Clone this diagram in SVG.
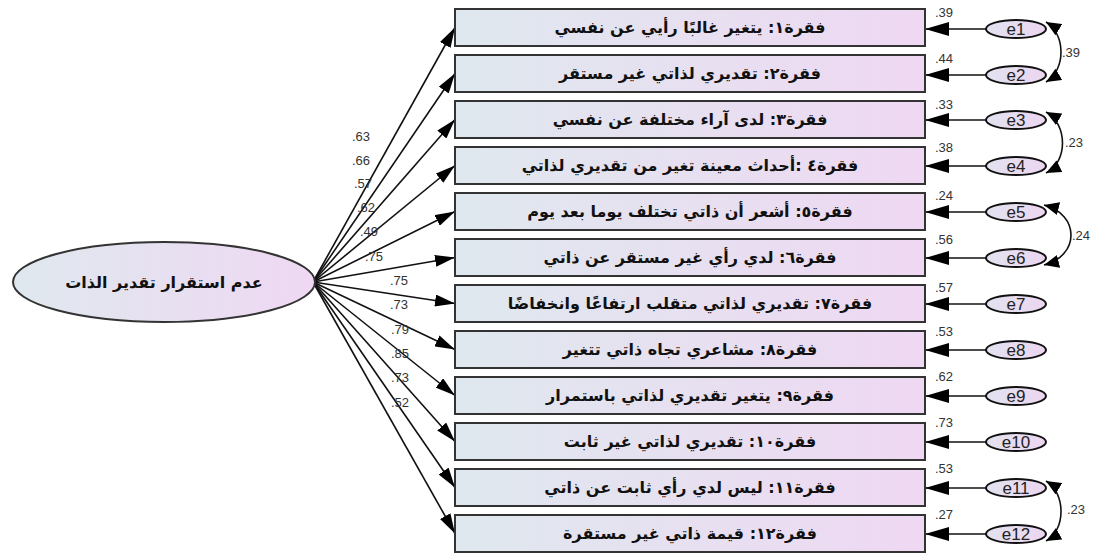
<svg xmlns="http://www.w3.org/2000/svg" width="1099" height="556" viewBox="0 0 1099 556">
<defs>
<linearGradient id="g" x1="0" y1="0" x2="1" y2="0">
<stop offset="0" stop-color="#dfe8ee"/>
<stop offset="1" stop-color="#efd8f3"/>
</linearGradient>
<linearGradient id="ge" x1="0" y1="0" x2="1" y2="0">
<stop offset="0" stop-color="#e2e2f0"/>
<stop offset="1" stop-color="#ecd6f0"/>
</linearGradient>
<marker id="ah" markerUnits="userSpaceOnUse" markerWidth="20" markerHeight="12" refX="20" refY="6" orient="auto">
<path d="M0,0 L20,6 L0,12 z" fill="#000"/>
</marker>
<marker id="ahe" markerUnits="userSpaceOnUse" markerWidth="24" markerHeight="14" refX="24" refY="7" orient="auto">
<path d="M0,0 L24,7 L0,14 z" fill="#000"/>
</marker>
<marker id="ahc" markerUnits="userSpaceOnUse" markerWidth="15" markerHeight="13" refX="15" refY="6.5" orient="auto-start-reverse">
<path d="M0,0 L15,6.5 L0,13 z" fill="#000"/>
</marker>
</defs>
<style>
.box{fill:url(#g);stroke:#333;stroke-width:2}
.bt{font-family:"DejaVu Sans",sans-serif;font-size:16px;font-weight:bold;fill:#111;text-anchor:middle;direction:rtl}
.el{fill:url(#ge);stroke:#111;stroke-width:2}
.et{font-family:"Liberation Sans",Arial,sans-serif;font-size:17px;fill:#222;text-anchor:middle}
.num{font-family:"Liberation Sans",Arial,sans-serif;font-size:13px;fill:#333}
.ln{stroke:#111;stroke-width:1.6;fill:none}
</style>
<g id="connectors">
<line class="ln" x1="313" y1="282" x2="455" y2="27.5" marker-end="url(#ah)"/>
<line class="ln" x1="313" y1="282" x2="455" y2="73.5" marker-end="url(#ah)"/>
<line class="ln" x1="313" y1="282" x2="455" y2="119.5" marker-end="url(#ah)"/>
<line class="ln" x1="313" y1="282" x2="455" y2="165.5" marker-end="url(#ah)"/>
<line class="ln" x1="313" y1="282" x2="455" y2="211.5" marker-end="url(#ah)"/>
<line class="ln" x1="313" y1="282" x2="455" y2="257.5" marker-end="url(#ah)"/>
<line class="ln" x1="313" y1="282" x2="455" y2="303.5" marker-end="url(#ah)"/>
<line class="ln" x1="313" y1="282" x2="455" y2="349.5" marker-end="url(#ah)"/>
<line class="ln" x1="313" y1="282" x2="455" y2="395.5" marker-end="url(#ah)"/>
<line class="ln" x1="313" y1="282" x2="455" y2="441.5" marker-end="url(#ah)"/>
<line class="ln" x1="313" y1="282" x2="455" y2="487.5" marker-end="url(#ah)"/>
<line class="ln" x1="313" y1="282" x2="455" y2="533.5" marker-end="url(#ah)"/>
<line class="ln" x1="986" y1="29" x2="925" y2="29" marker-end="url(#ahe)"/>
<line class="ln" x1="986" y1="75" x2="925" y2="75" marker-end="url(#ahe)"/>
<line class="ln" x1="986" y1="120" x2="925" y2="120" marker-end="url(#ahe)"/>
<line class="ln" x1="986" y1="166" x2="925" y2="166" marker-end="url(#ahe)"/>
<line class="ln" x1="986" y1="212" x2="925" y2="212" marker-end="url(#ahe)"/>
<line class="ln" x1="986" y1="258" x2="925" y2="258" marker-end="url(#ahe)"/>
<line class="ln" x1="986" y1="304" x2="925" y2="304" marker-end="url(#ahe)"/>
<line class="ln" x1="986" y1="350" x2="925" y2="350" marker-end="url(#ahe)"/>
<line class="ln" x1="986" y1="396" x2="925" y2="396" marker-end="url(#ahe)"/>
<line class="ln" x1="986" y1="442" x2="925" y2="442" marker-end="url(#ahe)"/>
<line class="ln" x1="986" y1="488" x2="925" y2="488" marker-end="url(#ahe)"/>
<line class="ln" x1="986" y1="534" x2="925" y2="534" marker-end="url(#ahe)"/>
<path class="ln" d="M1046,22 C1066,34 1066,70 1046,82" marker-start="url(#ahc)" marker-end="url(#ahc)"/>
<path class="ln" d="M1046,112 C1068,124 1068,162 1046,173" marker-start="url(#ahc)" marker-end="url(#ahc)"/>
<path class="ln" d="M1044,205 C1080,214 1080,256 1044,265" marker-start="url(#ahc)" marker-end="url(#ahc)"/>
<path class="ln" d="M1046,481 C1066,493 1066,530 1046,541" marker-start="url(#ahc)" marker-end="url(#ahc)"/>
</g>
<g id="labels">
<text class="num" x="361" y="141" text-anchor="middle">.63</text>
<text class="num" x="361" y="165" text-anchor="middle">.66</text>
<text class="num" x="363" y="188" text-anchor="middle">.57</text>
<text class="num" x="366" y="212" text-anchor="middle">.62</text>
<text class="num" x="369" y="236" text-anchor="middle">.49</text>
<text class="num" x="374" y="261" text-anchor="middle">.75</text>
<text class="num" x="399" y="285" text-anchor="middle">.75</text>
<text class="num" x="399" y="309" text-anchor="middle">.73</text>
<text class="num" x="400" y="334" text-anchor="middle">.79</text>
<text class="num" x="400" y="358" text-anchor="middle">.85</text>
<text class="num" x="400" y="382" text-anchor="middle">.73</text>
<text class="num" x="400" y="407" text-anchor="middle">.52</text>
<text class="num" x="935" y="17">.39</text>
<text class="num" x="935" y="63">.44</text>
<text class="num" x="935" y="109">.33</text>
<text class="num" x="935" y="152">.38</text>
<text class="num" x="935" y="200">.24</text>
<text class="num" x="935" y="244">.56</text>
<text class="num" x="935" y="292">.57</text>
<text class="num" x="935" y="336">.53</text>
<text class="num" x="935" y="381">.62</text>
<text class="num" x="935" y="427">.73</text>
<text class="num" x="935" y="473">.53</text>
<text class="num" x="935" y="519">.27</text>
<text class="num" x="1062" y="57">.39</text>
<text class="num" x="1065" y="147">.23</text>
<text class="num" x="1072" y="240">.24</text>
<text class="num" x="1067" y="514">.23</text>
</g>
<g id="latent">
<ellipse class="box" cx="164" cy="282" rx="151" ry="40"/>
<text class="bt" x="164" y="288">عدم استقرار تقدير الذات</text>
</g>
<g id="item1"><rect class="box" x="455" y="9" width="470" height="37"/><text class="bt" x="690" y="33">فقرة١: يتغير غالبًا رأيي عن نفسي</text></g>
<g id="item2"><rect class="box" x="455" y="55" width="470" height="37"/><text class="bt" x="690" y="79">فقرة٢: تقديري لذاتي غير مستقر</text></g>
<g id="item3"><rect class="box" x="455" y="101" width="470" height="37"/><text class="bt" x="690" y="125">فقرة٣: لدى آراء مختلفة عن نفسي</text></g>
<g id="item4"><rect class="box" x="455" y="147" width="470" height="37"/><text class="bt" x="690" y="171">فقرة٤ :أحداث معينة تغير من تقديري لذاتي</text></g>
<g id="item5"><rect class="box" x="455" y="193" width="470" height="37"/><text class="bt" x="690" y="217">فقرة٥: أشعر أن ذاتي تختلف يوما بعد يوم</text></g>
<g id="item6"><rect class="box" x="455" y="239" width="470" height="37"/><text class="bt" x="690" y="263">فقرة٦: لدي رأي غير مستقر عن ذاتي</text></g>
<g id="item7"><rect class="box" x="455" y="285" width="470" height="37"/><text class="bt" x="690" y="309">فقرة٧: تقديري لذاتي متقلب ارتفاعًا وانخفاضًا</text></g>
<g id="item8"><rect class="box" x="455" y="331" width="470" height="37"/><text class="bt" x="690" y="355">فقرة٨: مشاعري تجاه ذاتي تتغير</text></g>
<g id="item9"><rect class="box" x="455" y="377" width="470" height="37"/><text class="bt" x="690" y="401">فقرة٩: يتغير تقديري لذاتي باستمرار</text></g>
<g id="item10"><rect class="box" x="455" y="423" width="470" height="37"/><text class="bt" x="690" y="447">فقرة١٠: تقديري لذاتي غير ثابت</text></g>
<g id="item11"><rect class="box" x="455" y="469" width="470" height="37"/><text class="bt" x="690" y="493">فقرة١١: ليس لدي رأي ثابت عن ذاتي</text></g>
<g id="item12"><rect class="box" x="455" y="515" width="470" height="37"/><text class="bt" x="690" y="539">فقرة١٢: قيمة ذاتي غير مستقرة</text></g>
<g id="e1"><ellipse class="el" cx="1016" cy="29" rx="30" ry="9"/><text class="et" x="1016" y="35">e1</text></g>
<g id="e2"><ellipse class="el" cx="1016" cy="75" rx="30" ry="9"/><text class="et" x="1016" y="81">e2</text></g>
<g id="e3"><ellipse class="el" cx="1016" cy="120" rx="30" ry="9"/><text class="et" x="1016" y="126">e3</text></g>
<g id="e4"><ellipse class="el" cx="1016" cy="166" rx="30" ry="9"/><text class="et" x="1016" y="172">e4</text></g>
<g id="e5"><ellipse class="el" cx="1016" cy="212" rx="30" ry="9"/><text class="et" x="1016" y="218">e5</text></g>
<g id="e6"><ellipse class="el" cx="1016" cy="258" rx="30" ry="9"/><text class="et" x="1016" y="264">e6</text></g>
<g id="e7"><ellipse class="el" cx="1016" cy="304" rx="30" ry="9"/><text class="et" x="1016" y="310">e7</text></g>
<g id="e8"><ellipse class="el" cx="1016" cy="350" rx="30" ry="9"/><text class="et" x="1016" y="356">e8</text></g>
<g id="e9"><ellipse class="el" cx="1016" cy="396" rx="30" ry="9"/><text class="et" x="1016" y="402">e9</text></g>
<g id="e10"><ellipse class="el" cx="1016" cy="442" rx="30" ry="9"/><text class="et" x="1016" y="448">e10</text></g>
<g id="e11"><ellipse class="el" cx="1016" cy="488" rx="30" ry="9"/><text class="et" x="1016" y="494">e11</text></g>
<g id="e12"><ellipse class="el" cx="1016" cy="534" rx="30" ry="9"/><text class="et" x="1016" y="540">e12</text></g>
</svg>
